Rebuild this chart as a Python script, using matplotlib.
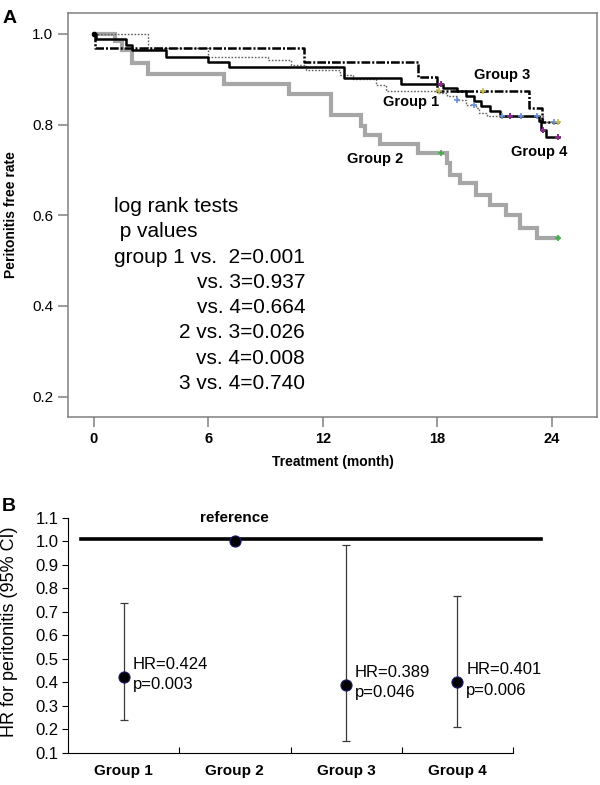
import numpy as np
import matplotlib
matplotlib.use('Agg')
import matplotlib.pyplot as plt

plt.rcParams['font.family'] = ['Liberation Sans', 'DejaVu Sans']

# ---- panel A: Kaplan-Meier curves (step times / survival after each step)
g1_t = [0, 2.85, 6.0, 9.1, 10.3, 11.1, 12.9, 13.6, 14.8, 15.3, 18.0, 18.5, 19.0, 19.5, 20.0, 20.2, 20.6, 23.55, 24.1]
g1_s = [1.0, 0.969, 0.95, 0.943, 0.932, 0.92, 0.91, 0.90, 0.888, 0.873, 0.869, 0.862, 0.854, 0.843, 0.836, 0.825, 0.818, 0.806, 0.806]
g1_cens = [19.0, 19.9, 21.4, 22.4, 23.2, 24.1]

g2_t = [0, 1.1, 1.45, 2.0, 2.85, 6.8, 10.2, 12.4, 14.0, 14.2, 15.0, 17.0, 18.5, 18.66, 19.2, 20.0, 20.75, 21.6, 22.3, 23.2, 24.3]
g2_s = [1.0, 0.985, 0.965, 0.935, 0.912, 0.89, 0.868, 0.82, 0.796, 0.777, 0.757, 0.737, 0.715, 0.689, 0.671, 0.645, 0.623, 0.601, 0.571, 0.549, 0.549]
g2_cens = [18.2, 24.3]

g3_t = [0, 0.05, 11.0, 17.0, 18.0, 22.8, 23.5, 24.35]
g3_s = [1.0, 0.968, 0.938, 0.905, 0.874, 0.836, 0.805, 0.805]
g3_cens = [18.1, 20.4, 24.3]

g4_t = [0, 0.1, 1.7, 2.0, 3.8, 6.0, 7.1, 13.1, 16.1, 18.3, 19.0, 19.5, 19.9, 20.3, 20.75, 21.3, 23.3, 23.4, 23.7, 24.35]
g4_s = [1.0, 0.988, 0.976, 0.965, 0.95, 0.939, 0.926, 0.902, 0.889, 0.88, 0.873, 0.862, 0.851, 0.84, 0.829, 0.818, 0.807, 0.788, 0.773, 0.773]
g4_cens = [18.2, 21.8, 23.55, 24.3]

stat_head = ['log rank tests', ' p values']
stat_lines = ['group 1 vs.  2=0.001', 'vs. 3=0.937', 'vs. 4=0.664',
              '2 vs. 3=0.026', 'vs. 4=0.008', '3 vs. 4=0.740']

# ---- panel B: hazard ratios
groups = ['Group 1', 'Group 2', 'Group 3', 'Group 4']
hr = [0.424, 1.0, 0.389, 0.401]
ci_low = [0.24, np.nan, 0.15, 0.21]
ci_high = [0.74, np.nan, 0.985, 0.77]
hr_text = ['HR=0.424\np=0.003', '', 'HR=0.389\np=0.046', 'HR=0.401\np=0.006']
ref_level = 1.01

fig = plt.figure(figsize=(6, 7.85), dpi=100)

# ================= A
ax = fig.add_axes([0.1133, 0.4688, 0.8817, 0.5146])
ax.set_xlim(-1.36, 26.36)
ax.set_ylim(0.155, 1.046)

spine_col = '#808080'


def km(t, s, cens, **kw):
    ax.step(t, s, where='post', **kw)
    idx = np.searchsorted(t, cens, side='right') - 1
    return np.array(s)[idx]


c2 = km(g2_t, g2_s, g2_cens, color='#a6a6a6', lw=3.0, solid_joinstyle='miter')
c1 = km(g1_t, g1_s, g1_cens, color='#606060', lw=1.0, linestyle=(0, (1.2, 1.2)))
c4 = km(g4_t, g4_s, g4_cens, color='black', lw=1.8)
c3 = km(g3_t, g3_s, g3_cens, color='black', lw=1.8, linestyle=(0, (3.5, 0.8, 0.8, 0.8)))

ax.plot(g2_cens, c2, '+', color='#3cb043', ms=5, mew=1.2)
ax.plot(g1_cens, c1, '+', color='#6a8fd6', ms=5, mew=1.2)
ax.plot(g3_cens, c3, '+', color='#c9bb55', ms=5, mew=1.2)
ax.plot(g4_cens, c4, '+', color='#8a2b8f', ms=5, mew=1.4)
ax.plot([0], [1.0], 'o', color='black', ms=3)

bold = dict(fontsize=10.5, fontweight='bold', ha='center', va='center')
ax.text(14.75, 0.724, 'Group 2', **bold)
ax.text(16.64, 0.85, 'Group 1', **bold)
ax.text(21.41, 0.91, 'Group 3', **bold)
ax.text(23.32, 0.74, 'Group 4', **bold)

step = 0.0557
for k, s in enumerate(stat_head):
    ax.text(1.05, 0.607 - k * step, s, fontsize=15, ha='left', va='baseline')
for k, s in enumerate(stat_lines):
    ax.text(11.06, 0.607 - (k + 2) * step, s, fontsize=15, ha='right', va='baseline')

ax.set_xticks([0, 6, 12, 18, 24])
ax.set_yticks([0.2, 0.4, 0.6, 0.8, 1.0])
ax.set_yticklabels(['0.2', '0.4', '0.6', '0.8', '1.0'])
for lab in ax.get_xticklabels():
    lab.set_fontweight('bold')
ax.tick_params(axis='x', direction='out', length=7.5, width=1.1, color=spine_col,
               labelsize=10.5, pad=3)
ax.tick_params(axis='y', direction='out', length=7.5, width=1.1, color=spine_col,
               labelsize=11, pad=3)
for sp in ax.spines.values():
    sp.set_color(spine_col)
    sp.set_linewidth(1.1)

ax.set_xlabel('Treatment (month)', fontsize=10, fontweight='bold')
ax.xaxis.set_label_coords(0.5, -0.094)
ax.set_ylabel('Peritonitis free rate', fontsize=10, fontweight='bold')
ax.yaxis.set_label_coords(-0.095, 0.5)

fig.text(0.005, 0.977, 'A', fontsize=14, fontweight='bold', ha='left', va='center')

# ================= B
bx = fig.add_axes([0.1133, 0.0408, 0.82, 0.2994])
bx.set_xlim(0.5, 4.922)
bx.set_ylim(0.1, 1.1)
x = np.arange(1, len(groups) + 1)

xmax_frac = (4.75 - 0.5) / (4.922 - 0.5)
bx.axhline(ref_level, xmin=0.027, xmax=xmax_frac, color='black', lw=2.6, clip_on=False)

err_lo = np.array(hr) - np.array(ci_low)
err_hi = np.array(ci_high) - np.array(hr)
bx.errorbar(x, hr, yerr=[err_lo, err_hi], fmt='none', ecolor='#3a3a3a',
            elinewidth=0.9, capsize=2.6, capthick=0.9)
bx.plot(x, hr, 'o', color='black', ms=8, mec='#1c1c6a', mew=0.8, zorder=5)

for xi, h, t in zip(x, hr, hr_text):
    if t:
        bx.text(xi + 0.08, h + 0.085, t, fontsize=12, ha='left', va='top',
                linespacing=1.45)

bx.text(2, 1.1, 'reference', fontsize=11, fontweight='bold', ha='center', va='center')

bx.set_xticks(x)
bx.set_xticklabels(groups, fontsize=11, fontweight='bold')
bx.set_xticks([1.5, 2.5, 3.5, 4.5], minor=True)
bx.tick_params(axis='x', which='major', length=0, pad=8)
bx.tick_params(axis='x', which='minor', direction='in', length=4, width=0.8)
bx.set_yticks(np.arange(0.1, 1.15, 0.1))
bx.set_yticklabels(['%.1f' % v for v in np.arange(0.1, 1.15, 0.1)])
bx.tick_params(axis='y', direction='out', length=4, width=0.8, labelsize=12, pad=3)
bx.spines['top'].set_visible(False)
bx.spines['right'].set_visible(False)
bx.spines['bottom'].set_bounds(0.5, 4.5)
bx.spines['left'].set_linewidth(0.8)
bx.spines['bottom'].set_linewidth(0.8)

fig.text(0.016, 0.195, 'HR for peritonitis (95% CI)', fontsize=13, rotation=90,
         ha='center', va='center')
fig.text(0.003, 0.355, 'B', fontsize=14, fontweight='bold', ha='left', va='center')

fig.savefig('out.png', dpi=100)
